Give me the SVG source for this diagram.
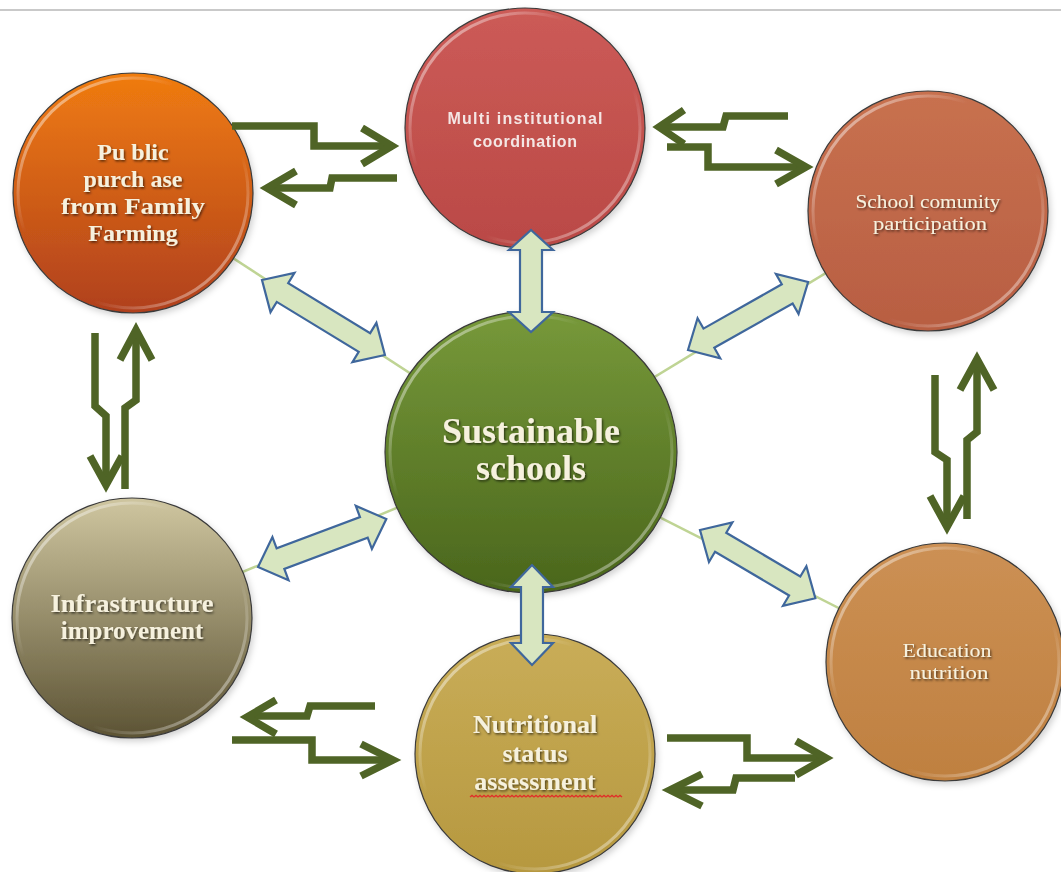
<svg xmlns="http://www.w3.org/2000/svg" width="1061" height="872" viewBox="0 0 1061 872">
<defs>
<style>
.disc{stroke:#3a3a3a;stroke-width:1.2}
.ring{fill:none;stroke:url(#gRing);stroke-width:3}
.spoke{stroke:#BFD494;stroke-width:2.5;fill:none}
.blk{fill:#D8E6C0;stroke:#3F679C;stroke-width:2.2;stroke-linejoin:miter}
.zz{fill:none;stroke:#4F6426;stroke-width:7.5;stroke-linejoin:miter;stroke-linecap:butt}
.tser{font-family:"Liberation Serif","DejaVu Serif",serif;font-weight:bold;fill:#F6F1DE;text-anchor:middle;filter:url(#sh)}
.tserR{font-family:"Liberation Serif","DejaVu Serif",serif;fill:#F6F1DE;text-anchor:middle;filter:url(#sh)}
.tsans{font-family:"Liberation Sans",Arial,sans-serif;font-weight:bold;fill:#F4E6E4;text-anchor:middle}
</style>
<filter id="sh" x="-20%" y="-40%" width="140%" height="180%">
<feDropShadow dx="1.2" dy="1.5" stdDeviation="0.8" flood-color="#000" flood-opacity="0.6"/>
</filter>
<filter id="ds" x="-10%" y="-10%" width="125%" height="125%">
<feDropShadow dx="2" dy="3" stdDeviation="3" flood-color="#000" flood-opacity="0.18"/>
</filter>
<linearGradient id="gRing" x1="0" y1="0" x2="1" y2="1">
<stop offset="0" stop-color="#fff" stop-opacity="0.75"/>
<stop offset="0.35" stop-color="#fff" stop-opacity="0"/>
<stop offset="0.65" stop-color="#fff" stop-opacity="0"/>
<stop offset="1" stop-color="#fff" stop-opacity="0.65"/>
</linearGradient>
<linearGradient id="gPub" x1="0" y1="0" x2="0" y2="1"><stop offset="0" stop-color="#F07C10"/><stop offset="1" stop-color="#B0401E"/></linearGradient>
<linearGradient id="gMul" x1="0" y1="0" x2="0" y2="1"><stop offset="0" stop-color="#CC5B57"/><stop offset="1" stop-color="#BA4946"/></linearGradient>
<linearGradient id="gSch" x1="0" y1="0" x2="0" y2="1"><stop offset="0" stop-color="#C8714F"/><stop offset="1" stop-color="#B85E42"/></linearGradient>
<linearGradient id="gSus" x1="0" y1="0" x2="0" y2="1"><stop offset="0" stop-color="#77993A"/><stop offset="1" stop-color="#4A661C"/></linearGradient>
<linearGradient id="gInf" x1="0" y1="0" x2="0" y2="1"><stop offset="0" stop-color="#CFC6A0"/><stop offset="1" stop-color="#5C5334"/></linearGradient>
<linearGradient id="gNut" x1="0" y1="0" x2="0" y2="1"><stop offset="0" stop-color="#C9AD58"/><stop offset="1" stop-color="#B6983F"/></linearGradient>
<linearGradient id="gEdu" x1="0" y1="0" x2="0" y2="1"><stop offset="0" stop-color="#CC9054"/><stop offset="1" stop-color="#BF8040"/></linearGradient>
</defs>
<rect width="1061" height="872" fill="#fff"/>
<line x1="0" y1="10" x2="1061" y2="10" stroke="#C9C9C9" stroke-width="2"/>

<g id="spokes">
<line class="spoke" x1="531" y1="452" x2="133" y2="193"/>
<line class="spoke" x1="531" y1="452" x2="928" y2="211"/>
<line class="spoke" x1="531" y1="452" x2="132" y2="618"/>
<line class="spoke" x1="531" y1="452" x2="945" y2="662"/>
</g>

<g id="node-public" filter="url(#ds)">
<circle class="disc" cx="133" cy="193" r="120" fill="url(#gPub)"/>
<circle class="ring" cx="133" cy="193" r="115"/>
<text class="tser" font-size="24" x="133" y="160">Pu blic</text>
<text class="tser" font-size="24" x="133" y="187">purch ase</text>
<text class="tser" font-size="24" x="133" y="214" textLength="144" lengthAdjust="spacingAndGlyphs">from Family</text>
<text class="tser" font-size="24" x="133" y="241">Farming</text>
</g>

<g id="node-multi" filter="url(#ds)">
<circle class="disc" cx="525" cy="128" r="120" fill="url(#gMul)"/>
<circle class="ring" cx="525" cy="128" r="115"/>
<text class="tsans" font-size="16" x="525" y="124" textLength="155">Multi institutional</text>
<text class="tsans" font-size="16" x="525" y="147" textLength="104">coordination</text>
</g>

<g id="node-school" filter="url(#ds)">
<circle class="disc" cx="928" cy="211" r="120" fill="url(#gSch)"/>
<circle class="ring" cx="928" cy="211" r="115"/>
<text class="tserR" font-size="19" x="928" y="208" textLength="145" lengthAdjust="spacingAndGlyphs">School comunity</text>
<text class="tserR" font-size="19" x="930" y="230" textLength="114" lengthAdjust="spacingAndGlyphs">participation</text>
</g>

<g id="node-sustainable" filter="url(#ds)">
<ellipse class="disc" cx="531" cy="452" rx="146" ry="141" fill="url(#gSus)"/>
<ellipse class="ring" cx="531" cy="452" rx="141" ry="136"/>
<text class="tser" font-size="36" x="531" y="443">Sustainable</text>
<text class="tser" font-size="36" x="531" y="480">schools</text>
</g>

<g id="node-infra" filter="url(#ds)">
<circle class="disc" cx="132" cy="618" r="120" fill="url(#gInf)"/>
<circle class="ring" cx="132" cy="618" r="115"/>
<text class="tser" font-size="25" x="132" y="612" textLength="163" lengthAdjust="spacingAndGlyphs">Infrastructure</text>
<text class="tser" font-size="25" x="132" y="639">improvement</text>
</g>

<g id="node-nutritional" filter="url(#ds)">
<circle class="disc" cx="535" cy="754" r="120" fill="url(#gNut)"/>
<circle class="ring" cx="535" cy="754" r="115"/>
<text class="tser" font-size="26" x="535" y="733">Nutritional</text>
<text class="tser" font-size="26" x="535" y="762">status</text>
<text class="tser" font-size="26" x="535" y="790">assessment</text>
<path d="M470,797 l2,-1.6 l2,1.6 l2,-1.6 l2,1.6 l2,-1.6 l2,1.6 l2,-1.6 l2,1.6 l2,-1.6 l2,1.6 l2,-1.6 l2,1.6 l2,-1.6 l2,1.6 l2,-1.6 l2,1.6 l2,-1.6 l2,1.6 l2,-1.6 l2,1.6 l2,-1.6 l2,1.6 l2,-1.6 l2,1.6 l2,-1.6 l2,1.6 l2,-1.6 l2,1.6 l2,-1.6 l2,1.6 l2,-1.6 l2,1.6 l2,-1.6 l2,1.6 l2,-1.6 l2,1.6 l2,-1.6 l2,1.6 l2,-1.6 l2,1.6 l2,-1.6 l2,1.6 l2,-1.6 l2,1.6 l2,-1.6 l2,1.6 l2,-1.6 l2,1.6 l2,-1.6 l2,1.6 l2,-1.6 l2,1.6 l2,-1.6 l2,1.6 l2,-1.6 l2,1.6 l2,-1.6 l2,1.6 l2,-1.6 l2,1.6 l2,-1.6 l2,1.6 l2,-1.6 l2,1.6 l2,-1.6 l2,1.6 l2,-1.6 l2,1.6 l2,-1.6 l2,1.6 l2,-1.6 l2,1.6 l2,-1.6 l2,1.6 l2,-1.6 l2,1.6" fill="none" stroke="#E0302A" stroke-width="1.3"/>
</g>

<g id="node-education" filter="url(#ds)">
<circle class="disc" cx="945" cy="662" r="119" fill="url(#gEdu)"/>
<circle class="ring" cx="945" cy="662" r="114"/>
<text class="tserR" font-size="18" x="947" y="657" textLength="89" lengthAdjust="spacingAndGlyphs">Education</text>
<text class="tserR" font-size="18" x="949" y="679" textLength="79" lengthAdjust="spacingAndGlyphs">nutrition</text>
</g>

<g id="connectors">
<path class="blk" transform="translate(531,230) rotate(90)" d="M0,0 L20,-22 L20,-11 L82,-11 L82,-22 L102,0 L82,22 L82,11 L20,11 L20,22 Z"/>
<path class="blk" transform="translate(532,565) rotate(90)" d="M0,0 L22,-21 L22,-11 L78,-11 L78,-21 L100,0 L78,21 L78,11 L22,11 L22,21 Z"/>
<path class="blk" transform="translate(262,280) rotate(31.4)" d="M0,0 L24,-23 L24,-11 L120,-11 L120,-23 L144,0 L120,23 L120,11 L24,11 L24,23 Z"/>
<path class="blk" transform="translate(688,350) rotate(-29.5)" d="M0,0 L24,-23 L24,-11 L114,-11 L114,-23 L138,0 L114,23 L114,11 L24,11 L24,23 Z"/>
<path class="blk" transform="translate(258,567) rotate(-20.5)" d="M0,0 L24,-23 L24,-11 L113,-11 L113,-23 L137,0 L113,23 L113,11 L24,11 L24,23 Z"/>
<path class="blk" transform="translate(700,530) rotate(30.6)" d="M0,0 L24,-23 L24,-11 L110,-11 L110,-23 L134,0 L110,23 L110,11 L24,11 L24,23 Z"/>

<path class="zz" d="M232,126 H314 V146 H390"/>
<path class="zz" d="M362,128 L392,146 L362,164"/>
<path class="zz" d="M397,178 H332 L330,188 H270"/>
<path class="zz" d="M296,171 L267,188 L296,205"/>

<path class="zz" d="M788,116 H726 L723,127 H662"/>
<path class="zz" d="M684,110 L659,127 L684,144"/>
<path class="zz" d="M667,147 H708 V167 H803"/>
<path class="zz" d="M776,150 L806,167 L776,184"/>

<path class="zz" d="M95,333 V406 L106,416 V482"/>
<path class="zz" d="M90,456 L106,485 L122,456"/>
<path class="zz" d="M125,489 V408 L136,400 V333"/>
<path class="zz" d="M120,360 L136,330 L152,360"/>

<path class="zz" d="M935,375 V452 L947,460 V524"/>
<path class="zz" d="M930,496 L947,527 L964,496"/>
<path class="zz" d="M967,519 V440 L977,432 V362"/>
<path class="zz" d="M960,390 L977,359 L994,390"/>

<path class="zz" d="M375,706 H310 L307,716 H250"/>
<path class="zz" d="M276,700 L247,717 L276,734"/>
<path class="zz" d="M232,740 H312 V760 H390"/>
<path class="zz" d="M361,744 L393,760 L361,776"/>

<path class="zz" d="M667,738 H747 V758 H823"/>
<path class="zz" d="M796,741 L826,758 L796,775"/>
<path class="zz" d="M795,778 H736 L733,790 H673"/>
<path class="zz" d="M702,774 L670,790 L702,806"/>
</g>
</svg>
